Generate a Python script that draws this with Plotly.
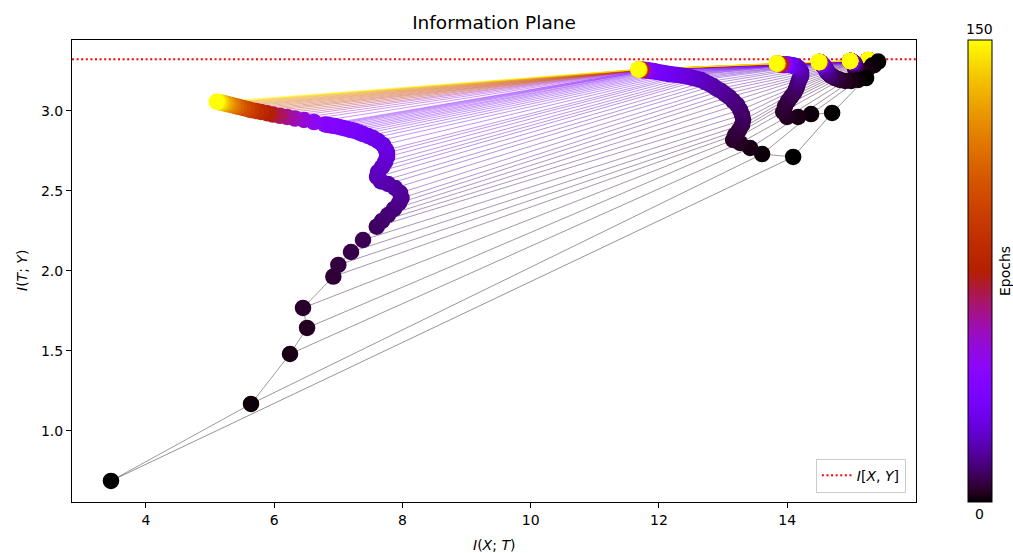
import numpy as np
import plotly.graph_objects as go

# ---------------- data ----------------
epochs = list(range(0, 41)) + list(range(45, 151, 5))

# layer 1 (closest to input, right-most) ... layer 6 (left-most)
l1_x = [15.357, 15.342, 15.334, 15.326, 15.318, 15.310, 15.303, 15.295, 15.292, 15.289,
        15.286, 15.285, 15.284, 15.283, 15.282, 15.281, 15.280, 15.279, 15.279, 15.278,
        15.277, 15.277, 15.276, 15.276, 15.275, 15.275, 15.274, 15.274, 15.273, 15.273,
        15.273, 15.272, 15.272, 15.272, 15.271, 15.271, 15.271, 15.271, 15.270, 15.270, 15.270,
        15.270, 15.269, 15.269, 15.269, 15.268, 15.268, 15.268, 15.267, 15.267, 15.267, 15.266,
        15.266, 15.266, 15.266, 15.265, 15.265, 15.265, 15.265, 15.264, 15.264, 15.264, 15.264]
l1_y = [3.285, 3.290, 3.294, 3.297, 3.299, 3.301, 3.303, 3.305, 3.306, 3.307,
        3.308, 3.308, 3.309, 3.309, 3.310, 3.310, 3.311, 3.311, 3.311, 3.312,
        3.312, 3.312, 3.312, 3.313, 3.313, 3.313, 3.313, 3.313, 3.313, 3.313,
        3.314, 3.314, 3.314, 3.314, 3.314, 3.314, 3.314, 3.314, 3.314, 3.314, 3.314,
        3.315, 3.315, 3.315, 3.315, 3.315, 3.315, 3.315, 3.315, 3.315, 3.316, 3.316,
        3.316, 3.316, 3.316, 3.316, 3.316, 3.316, 3.316, 3.317, 3.317, 3.317, 3.317]

l2_x = [15.420, 15.326, 15.232, 15.154, 15.108, 15.077, 15.061, 15.061, 15.061, 15.061,
        15.053, 15.045, 15.040, 15.036, 15.032, 15.029, 15.026, 15.023, 15.021, 15.019,
        15.017, 15.015, 15.013, 15.011, 15.009, 15.007, 15.005, 15.003, 15.001, 15.000,
        14.999, 14.998, 14.997, 14.996, 14.995, 14.994, 14.993, 14.992, 14.991, 14.990, 14.990,
        14.989, 14.989, 14.988, 14.988, 14.987, 14.987, 14.986, 14.986, 14.986, 14.985, 14.985,
        14.985, 14.984, 14.984, 14.984, 14.984, 14.983, 14.983, 14.983, 14.983, 14.983, 14.983]
l2_y = [3.307, 3.282, 3.248, 3.236, 3.242, 3.251, 3.261, 3.270, 3.279, 3.286,
        3.292, 3.296, 3.298, 3.299, 3.300, 3.301, 3.302, 3.303, 3.303, 3.304,
        3.304, 3.305, 3.305, 3.305, 3.306, 3.306, 3.306, 3.307, 3.307, 3.307,
        3.307, 3.308, 3.308, 3.308, 3.308, 3.309, 3.309, 3.309, 3.309, 3.309, 3.309,
        3.310, 3.310, 3.310, 3.310, 3.310, 3.310, 3.311, 3.311, 3.311, 3.311, 3.311,
        3.311, 3.311, 3.311, 3.311, 3.311, 3.311, 3.311, 3.311, 3.311, 3.311, 3.311]

l3_x = [15.232, 15.108, 14.998, 14.905, 14.827, 14.788, 14.750, 14.718, 14.687, 14.671,
        14.656, 14.640, 14.624, 14.616, 14.609, 14.601, 14.593, 14.585, 14.577, 14.570,
        14.562, 14.556, 14.550, 14.545, 14.541, 14.537, 14.534, 14.531, 14.529, 14.527,
        14.525, 14.523, 14.522, 14.521, 14.520, 14.519, 14.518, 14.518, 14.517, 14.517, 14.516,
        14.515, 14.514, 14.513, 14.512, 14.511, 14.510, 14.509, 14.508, 14.507, 14.506, 14.505,
        14.504, 14.503, 14.502, 14.501, 14.500, 14.499, 14.498, 14.497, 14.496, 14.495, 14.494]
l3_y = [3.204, 3.192, 3.186, 3.186, 3.192, 3.198, 3.204, 3.211, 3.217, 3.223,
        3.229, 3.236, 3.242, 3.248, 3.254, 3.261, 3.267, 3.271, 3.276, 3.279,
        3.283, 3.285, 3.287, 3.289, 3.290, 3.292, 3.293, 3.294, 3.295, 3.296,
        3.297, 3.297, 3.298, 3.298, 3.299, 3.299, 3.300, 3.300, 3.300, 3.301, 3.301,
        3.301, 3.302, 3.302, 3.302, 3.302, 3.303, 3.303, 3.303, 3.303, 3.303, 3.304,
        3.304, 3.304, 3.304, 3.304, 3.304, 3.304, 3.304, 3.304, 3.304, 3.304, 3.304]

l4_x = [14.702, 14.374, 14.171, 13.999, 13.938, 13.969, 14.016, 14.062, 14.109, 14.140,
        14.156, 14.171, 14.187, 14.203, 14.218, 14.218, 14.218, 14.203, 14.187, 14.171,
        14.156, 14.140, 14.125, 14.109, 14.094, 14.078, 14.062, 14.047, 14.031, 14.023,
        14.016, 14.008, 13.999, 13.992, 13.984, 13.977, 13.969, 13.964, 13.960, 13.955, 13.950,
        13.938, 13.927, 13.917, 13.908, 13.900, 13.892, 13.885, 13.878, 13.872, 13.867, 13.862,
        13.858, 13.855, 13.852, 13.848, 13.847, 13.845, 13.844, 13.843, 13.842, 13.841, 13.840]
l4_y = [2.986, 2.979, 2.961, 2.961, 2.992, 3.029, 3.061, 3.086, 3.111, 3.136,
        3.154, 3.173, 3.192, 3.204, 3.217, 3.229, 3.242, 3.251, 3.261, 3.267,
        3.273, 3.276, 3.279, 3.279, 3.283, 3.283, 3.286, 3.286, 3.286, 3.286,
        3.287, 3.287, 3.287, 3.288, 3.288, 3.288, 3.288, 3.289, 3.289, 3.289, 3.289,
        3.289, 3.290, 3.290, 3.290, 3.291, 3.291, 3.291, 3.292, 3.292, 3.292, 3.292,
        3.293, 3.293, 3.293, 3.293, 3.294, 3.294, 3.294, 3.294, 3.295, 3.295, 3.295]

l5_x = [14.094, 13.610, 13.423, 13.267, 13.158, 13.189, 13.251, 13.298, 13.314, 13.298,
        13.267, 13.220, 13.158, 13.095, 13.033, 12.971, 12.908, 12.846, 12.783, 12.721,
        12.659, 12.596, 12.534, 12.471, 12.409, 12.346, 12.284, 12.222, 12.159, 12.112,
        12.066, 12.019, 11.972, 11.941, 11.910, 11.879, 11.847, 11.832, 11.816, 11.800, 11.785,
        11.769, 11.754, 11.746, 11.738, 11.730, 11.722, 11.717, 11.713, 11.710, 11.707, 11.704,
        11.700, 11.698, 11.696, 11.694, 11.692, 11.690, 11.688, 11.686, 11.684, 11.682, 11.680]
l5_y = [2.711, 2.729, 2.767, 2.798, 2.817, 2.848, 2.879, 2.911, 2.942, 2.973,
        3.004, 3.036, 3.061, 3.086, 3.104, 3.123, 3.136, 3.154, 3.167, 3.179,
        3.192, 3.198, 3.204, 3.211, 3.217, 3.220, 3.223, 3.226, 3.229, 3.233,
        3.236, 3.239, 3.242, 3.245, 3.248, 3.248, 3.251, 3.251, 3.251, 3.254, 3.254,
        3.254, 3.254, 3.255, 3.255, 3.255, 3.256, 3.256, 3.256, 3.256, 3.257, 3.257,
        3.257, 3.257, 3.257, 3.258, 3.258, 3.258, 3.258, 3.258, 3.258, 3.258, 3.258]

l6_x = [3.454, 5.638, 6.246, 6.512, 6.449, 6.922, 7.000, 7.198, 7.385, 7.599,
        7.682, 7.775, 7.869, 7.947, 7.986, 7.963, 7.885, 7.775, 7.666, 7.604,
        7.619, 7.682, 7.729, 7.760, 7.760, 7.744, 7.697, 7.619, 7.541, 7.463,
        7.385, 7.323, 7.261, 7.198, 7.136, 7.073, 7.011, 6.949, 6.886, 6.839, 6.793,
        6.621, 6.465, 6.324, 6.200, 6.090, 5.981, 5.888, 5.794, 5.716, 5.638, 5.576,
        5.513, 5.451, 5.404, 5.357, 5.310, 5.264, 5.232, 5.193, 5.162, 5.131, 5.103]
l6_y = [0.686, 1.167, 1.479, 1.642, 1.767, 1.963, 2.036, 2.117, 2.192, 2.275,
        2.311, 2.348, 2.386, 2.423, 2.454, 2.486, 2.517, 2.542, 2.558, 2.586,
        2.617, 2.648, 2.679, 2.711, 2.736, 2.754, 2.786, 2.811, 2.829, 2.842,
        2.854, 2.864, 2.873, 2.879, 2.886, 2.892, 2.898, 2.904, 2.908, 2.911, 2.914,
        2.929, 2.942, 2.951, 2.961, 2.968, 2.976, 2.984, 2.992, 2.998, 3.004, 3.011,
        3.017, 3.023, 3.028, 3.033, 3.037, 3.042, 3.045, 3.048, 3.051, 3.054, 3.056]

I_XY = 3.3219          # log2(10)
max_epoch = 150
x_range = [2.846, 16.01]
y_range = [0.554, 3.442]
x_ticks = [4, 6, 8, 10, 12, 14]
y_ticks = [1.0, 1.5, 2.0, 2.5, 3.0]

layers_x = [l1_x, l2_x, l3_x, l4_x, l5_x, l6_x]
layers_y = [l1_y, l2_y, l3_y, l4_y, l5_y, l6_y]

# ---------------- gnuplot colormap ----------------
def gnuplot(t):
    r = np.sqrt(t)
    g = t ** 3
    b = max(0.0, np.sin(2 * np.pi * t))
    return int(round(255 * r)), int(round(255 * g)), int(round(255 * b))

colorscale = []
for t in np.linspace(0, 1, 61):
    r, g, b = gnuplot(t)
    colorscale.append([float(t), f"rgb({r},{g},{b})"])

FONT = "DejaVu Sans"
fig = go.Figure()

# I[X,Y] reference line
fig.add_trace(go.Scatter(
    x=x_range, y=[I_XY, I_XY], mode="lines",
    line=dict(color="red", width=2, dash="2px,2.6px"),
    name="<i>I</i>[<i>X</i>, <i>Y</i>]", showlegend=True, hoverinfo="skip"))

# per-layer trajectories
for lx, ly in zip(layers_x, layers_y):
    fig.add_trace(go.Scatter(x=lx, y=ly, mode="lines",
                             line=dict(color="rgba(20,0,20,0.4)", width=1),
                             showlegend=False, hoverinfo="skip"))

# per-epoch lines connecting the layers
for i, ep in enumerate(epochs):
    r, g, b = gnuplot(ep / max_epoch)
    fig.add_trace(go.Scatter(
        x=[lx[i] for lx in layers_x], y=[ly[i] for ly in layers_y],
        mode="lines", line=dict(color=f"rgba({r},{g},{b},0.42)", width=1),
        showlegend=False, hoverinfo="skip"))

# points (layer by layer, epochs ascending)
px, py, pc = [], [], []
for lx, ly in zip(layers_x, layers_y):
    for i, ep in enumerate(epochs):
        px.append(lx[i]); py.append(ly[i]); pc.append(ep)

fig.add_trace(go.Scatter(
    x=px, y=py, mode="markers", showlegend=False,
    marker=dict(size=16.5, color=pc, colorscale=colorscale, cmin=0, cmax=max_epoch,
                line=dict(width=0), showscale=True,
                colorbar=dict(x=1.0616, xanchor="left", y=0.5, yanchor="middle",
                              len=1, lenmode="fraction", thickness=24,
                              thicknessmode="pixels", outlinewidth=1,
                              outlinecolor="black", showticklabels=False,
                              ticks="", xpad=0, ypad=0))))

axis_common = dict(showline=True, mirror=True, linecolor="black", linewidth=1,
                   ticks="outside", ticklen=5, tickwidth=1, tickcolor="black",
                   showgrid=False, zeroline=False,
                   tickfont=dict(family=FONT, size=14, color="black"))

fig.update_layout(
    width=1013, height=553,
    margin=dict(l=72, r=97, t=40, b=51),
    paper_bgcolor="white", plot_bgcolor="white",
    font=dict(family=FONT, size=14, color="black"),
    title=dict(text="Information Plane", x=0.5, xref="paper", xanchor="center",
               y=1 - 23 / 553, yanchor="middle",
               font=dict(family=FONT, size=18.5, color="black")),
    xaxis=dict(range=x_range, tickvals=x_ticks,
               ticktext=[str(v) for v in x_ticks], **axis_common),
    yaxis=dict(range=y_range, tickvals=y_ticks,
               ticktext=[f"{v:.1f}" for v in y_ticks], **axis_common),
    legend=dict(x=0.988, y=0.02, xanchor="right", yanchor="bottom",
                bgcolor="rgba(255,255,255,0.8)", bordercolor="#cccccc",
                borderwidth=1, font=dict(family=FONT, size=14, color="black")),
    annotations=[
        dict(text="<i>I</i>(<i>X</i>; <i>T</i>)", xref="paper", yref="paper",
             x=0.5, y=(502 - 545) / 462, xanchor="center", yanchor="middle",
             showarrow=False, font=dict(family=FONT, size=14)),
        dict(text="<i>I</i>(<i>T</i>; <i>Y</i>)", xref="paper", yref="paper",
             x=(22 - 72) / 844, y=0.5, xanchor="center", yanchor="middle",
             textangle=-90, showarrow=False, font=dict(family=FONT, size=14)),
        dict(text="150", xref="paper", yref="paper",
             x=(980 - 72) / 844, y=(502 - 29) / 462, xanchor="center", yanchor="middle",
             showarrow=False, font=dict(family=FONT, size=14)),
        dict(text="0", xref="paper", yref="paper",
             x=(980 - 72) / 844, y=(502 - 514) / 462, xanchor="center", yanchor="middle",
             showarrow=False, font=dict(family=FONT, size=14)),
        dict(text="Epochs", xref="paper", yref="paper",
             x=(1005 - 72) / 844, y=0.5, xanchor="center", yanchor="middle",
             textangle=-90, showarrow=False, font=dict(family=FONT, size=14)),
    ],
)

fig.write_html("out.html")
